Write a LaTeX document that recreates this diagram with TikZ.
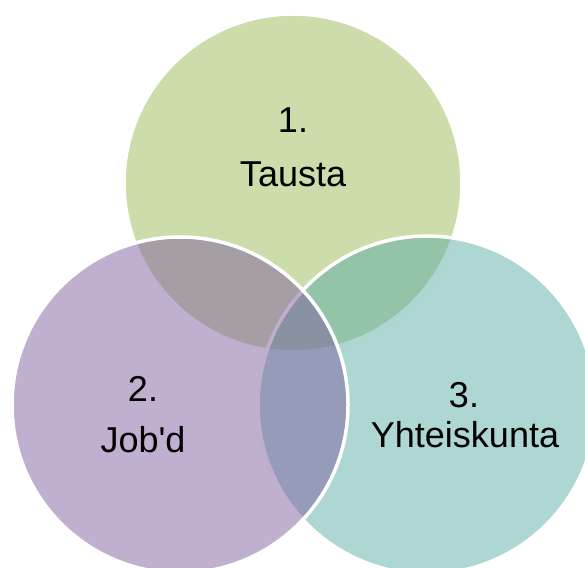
\documentclass[tikz,border=0pt]{standalone}
\usepackage{fontspec}
\setmainfont{Liberation Sans}[Ligatures=TeXOff]
\definecolor{cgreen}{HTML}{CDDCAB}
\definecolor{cteal}{HTML}{5DADA5}
\definecolor{cpurple}{HTML}{7F61A1}
\tikzset{
  venn/.style={draw=white, line width=3.5pt},
  lbl/.style={anchor=base, inner sep=0pt, font=\fontsize{36}{40}\selectfont, text=black}
}
\begin{document}
\begin{tikzpicture}[x=1pt,y=1pt]
\useasboundingbox (0,0) rectangle (585,567);
\clip (0,0) rectangle (585,567);
\filldraw[venn, fill=cgreen] (293,384) circle (169);
\filldraw[venn, fill=cteal, fill opacity=0.5] (427,162) circle (169);
\filldraw[venn, fill=cpurple, fill opacity=0.5] (180,162) circle (168);
\node[lbl] (n1) at (293,434) {1.};
\node[lbl] (t1) at (293,380) {Tausta};
\node[lbl] (n2) at (143,165) {2.};
\node[lbl] (t2) at (143,114) {Job'd};
\node[lbl] (n3) at (464,159) {3.};
\node[lbl] (t3) at (465,120) {Yhteiskunta};
\end{tikzpicture}
\end{document}
